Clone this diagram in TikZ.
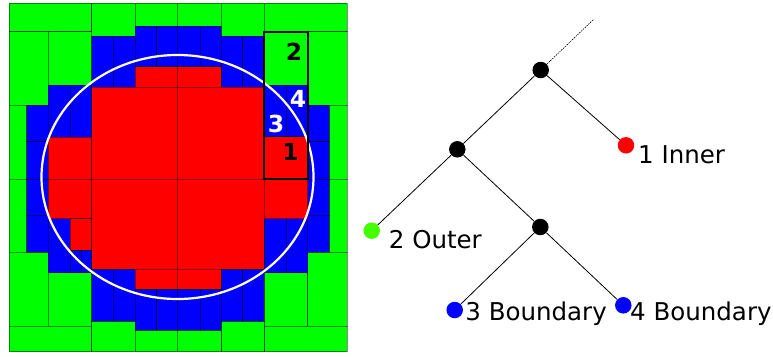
\documentclass[tikz,border=0pt]{standalone}
\usepackage{fontspec}
\setmainfont{DejaVu Sans}
\definecolor{cellgreen}{RGB}{0,255,0}
\definecolor{cellblue}{RGB}{0,0,255}
\definecolor{cellred}{RGB}{255,0,0}
\definecolor{leafgreen}{RGB}{68,255,0}
\tikzset{
  cellbox/.style={draw=black, draw opacity=0.45, line width=0.6pt},
  gcell/.style={cellbox, fill=cellgreen},
  bcell/.style={cellbox, fill=cellblue},
  rcell/.style={cellbox, fill=cellred},
  celldigit/.style={inner sep=0pt, font=\fontsize{23.5}{26}\selectfont\bfseries},
  treenode/.style={circle, inner sep=0pt, minimum size=16.5pt},
  treeedge/.style={line width=0.8pt, black},
  leaflabel/.style={inner sep=0pt, anchor=base west, font=\fontsize{24.5}{29}\selectfont},
}
\begin{document}
\begin{tikzpicture}[x=1pt, y=-1pt]
\useasboundingbox (0,0) rectangle (773,356);

% ---- adaptive mesh: green (outer) cells ----
\foreach \xa/\ya/\xb/\yb in {
  9/3/91.7/31.7, 91.7/3/135/36, 135/3/177/26,
  9/31.7/48.3/105, 48.3/31.7/91.7/85, 9/105/26.7/179,
  177/3/221/26, 221/3/264.3/36, 264.3/3/347/31.7,
  264.3/31.7/307.7/85, 307.7/31.7/347/105, 329.3/105/347/179,
  9/179/26.7/252, 9/252/48.3/326, 48.3/272.7/91.7/326,
  9/326/91.7/351.7, 91.7/321/135/351.7, 135/330.3/177/351.7,
  329.3/179/347/252, 264.3/272.7/307.7/326, 307.7/252/347/326,
  264.3/326/347/351.7, 221/321/264.3/351.7, 177/330.3/221/351.7}
  \draw[gcell] (\xa,\ya) rectangle (\xb,\yb);

% ---- boundary (blue) cells ----
\foreach \xa/\ya/\xb/\yb in {
  26.7/105/48.3/141.7, 26.7/141.7/48.3/179,
  48.3/85/70/137.3, 70/85/91.7/137.3,
  91.7/36/113.3/87.3, 113.3/36/135/87.3,
  135/26/156.7/66.7, 156.7/26/177/66.7,
  177/26/200/66.7, 200/26/221/66.7,
  221/36/242.7/87.3, 242.7/36/264.3/87.3,
  264.3/85/286/136.7, 286/85/307.7/136.7,
  307.7/105/329.3/141.7, 307.7/141.7/329.3/179,
  26.7/179/48.3/215.3, 26.7/215.3/48.3/252,
  48.3/218.7/70/272.7, 70/250/81/272.7, 81/250/91.7/272.7,
  91.7/269.3/113.3/321, 113.3/269.3/135/321,
  135/289.3/156.7/330.3, 156.7/289.3/177/330.3,
  307.7/179/329.3/215.3, 307.7/215.3/329.3/252,
  264.3/218.7/286/272.7, 286/218.7/307.7/272.7,
  177/289.3/200/330.3, 200/289.3/221/330.3,
  221/269.3/242.7/321, 242.7/269.3/264.3/321}
  \draw[bcell] (\xa,\ya) rectangle (\xb,\yb);

% ---- inner (red) cells ----
\foreach \xa/\ya/\xb/\yb in {
  48.3/137.3/91.7/179, 135/66.7/177/87.3, 177/66.7/221/87.3,
  91.7/87.3/177/179, 177/87.3/264.3/179, 264.3/136.7/307.7/179,
  48.3/179/91.7/218.7, 70/218.7/91.7/250, 91.7/179/177/269.3,
  135/269.3/177/289.3, 177/179/264.3/269.3, 264.3/179/307.7/218.7,
  177/269.3/221/289.3}
  \draw[rcell] (\xa,\ya) rectangle (\xb,\yb);

% ---- circular interface ----
\draw[white, line width=2.2pt] (177.5,177) ellipse [x radius=136, y radius=122];

% ---- highlighted column with its four cells ----
\draw[black, line width=1.8pt] (264.3,32) rectangle (307.7,179);
\node[celldigit, text=black] (d2) at (294,51.5) {2};
\node[celldigit, text=white] (d4) at (298,98.5) {4};
\node[celldigit, text=white] (d3) at (276,124) {3};
\node[celldigit, text=black] (d1) at (290.5,151.7) {1};

% ---- classification tree ----
\node[treenode, fill=black] (root) at (540.7,70) {};
\node[treenode, fill=black] (mid) at (457.3,149.3) {};
\node[treenode, fill=black] (low) at (540.3,227) {};
\node[treenode, fill=cellred] (inner) at (626,145.3) {};
\node[treenode, fill=leafgreen] (outer) at (371.7,230.7) {};
\node[treenode, fill=cellblue] (bnda) at (454.7,310) {};
\node[treenode, fill=cellblue] (bndb) at (623.3,305.3) {};
\coordinate (up) at (594,19);

\draw[line width=0.6pt, dash pattern=on 1.5pt off 1pt] (root) -- (up);
\draw[treeedge] (root) -- (inner);
\draw[treeedge] (root) -- (mid);
\draw[treeedge] (mid) -- (outer);
\draw[treeedge] (mid) -- (low);
\draw[treeedge] (low) -- (bnda);
\draw[treeedge] (low) -- (bndb);

\node[leaflabel] (linner) at (638,163.3) {1 Inner};
\node[leaflabel] (louter) at (388.7,248.3) {2 Outer};
\node[leaflabel] (lbnda) at (465.2,320) {3 Boundary};
\node[leaflabel] (lbndb) at (630,320.7) {4 Boundary};
\end{tikzpicture}
\end{document}
